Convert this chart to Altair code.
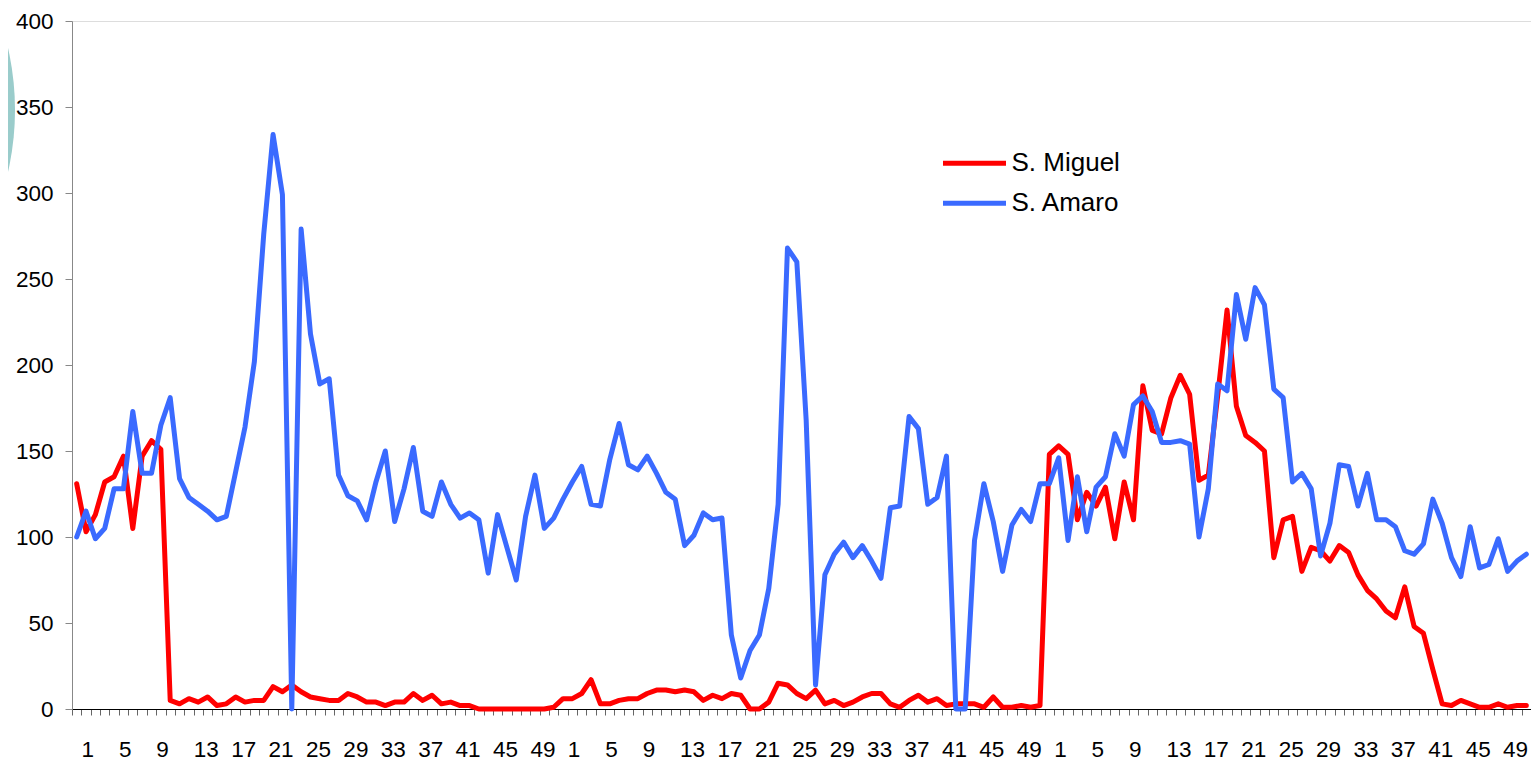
import altair as alt
import pandas as pd

# Week numbers of the three seasons (52 weeks each)
weeks = list(range(1, 53)) * 3

series_names = ["S. Miguel", "S. Amaro"]
series_colors = ["#FF0000", "#3A6AFF"]

s_miguel = [
    131, 103, 113, 132, 135, 147, 105, 147, 156, 151,
    5, 3, 6, 4, 7, 2, 3, 7, 4, 5,
    5, 13, 10, 14, 10, 7, 6, 5, 5, 9,
    7, 4, 4, 2, 4, 4, 9, 5, 8, 3,
    4, 2, 2, 0, 0, 0, 0, 0, 0, 0,
    0, 1, 6, 6, 9, 17, 3, 3, 5, 6,
    6, 9, 11, 11, 10, 11, 10, 5, 8, 6,
    9, 8, 0, 0, 4, 15, 14, 9, 6, 11,
    3, 5, 2, 4, 7, 9, 9, 3, 1, 5,
    8, 4, 6, 2, 3, 3, 3, 1, 7, 1,
    1, 2, 1, 2, 148, 153, 148, 110, 126, 118,
    129, 99, 132, 110, 188, 162, 160, 181, 194, 183,
    133, 136, 182, 232, 176, 159, 155, 150, 88, 110,
    112, 80, 94, 92, 86, 95, 91, 78, 69, 64,
    57, 53, 71, 48, 44, 23, 3, 2, 5, 3,
    1, 1, 3, 1, 2, 2,
]

s_amaro = [
    100, 115, 99, 105, 128, 128, 173, 137, 137, 165,
    181, 134, 123, 119, 115, 110, 112, 138, 164, 202,
    276, 334, 299, 0, 279, 218, 189, 192, 136, 124,
    121, 110, 132, 150, 109, 128, 152, 115, 112, 132,
    119, 111, 114, 110, 79, 113, 94, 75, 112, 136,
    105, 111, 122, 132, 141, 119, 118, 145, 166, 142,
    139, 147, 137, 126, 122, 95, 101, 114, 110, 111,
    43, 18, 34, 43, 70, 119, 268, 260, 168, 14,
    78, 90, 97, 88, 95, 86, 76, 117, 118, 170,
    163, 119, 123, 147, 0, 0, 98, 131, 109, 80,
    107, 116, 109, 131, 131, 146, 98, 135, 103, 129,
    135, 160, 147, 177, 182, 173, 155, 155, 156, 154,
    100, 128, 189, 185, 241, 215, 245, 235, 186, 181,
    132, 137, 128, 89, 108, 142, 141, 118, 137, 110,
    110, 106, 92, 90, 96, 122, 108, 88, 77, 106,
    82, 84, 99, 80, 86, 90,
]

y_ticks = [0, 50, 100, 150, 200, 250, 300, 350, 400]

rows = []
for name, vals in zip(series_names, [s_miguel, s_amaro]):
    for i, v in enumerate(vals):
        rows.append({"idx": i, "week": weeks[i], "serie": name, "valor": v})
df = pd.DataFrame(rows)

n = len(weeks)
boundaries = [i - 0.5 for i in range(n + 1)]
label_expr = (
    f"((datum.value + 0.5) % 4 == 0 && datum.value < {n - 1}) "
    "? '' + ((datum.value + 0.5) % 52 + 1) : ''"
)

FONT = "Liberation Sans"

lines = alt.Chart(df).mark_line(
    strokeWidth=5, strokeJoin="round", strokeCap="round"
).encode(
    x=alt.X(
        "idx:Q",
        scale=alt.Scale(domain=[-0.5, n - 0.5], nice=False, zero=False),
        axis=alt.Axis(
            values=boundaries,
            labelExpr=label_expr,
            labelAlign="left",
            labelOffset=9,
            labelFlush=False,
            labelOverlap=False,
            labelPadding=23,
            labelFontSize=22.5,
            labelFont=FONT,
            labelColor="black",
            tickSize=6,
            tickColor="#666666",
            domainColor="#000000",
            grid=False,
            title=None,
        ),
    ),
    y=alt.Y(
        "valor:Q",
        scale=alt.Scale(domain=[0, 400], nice=False),
        axis=alt.Axis(
            values=y_ticks,
            tickSize=7,
            labelPadding=12,
            labelFontSize=22.5,
            labelFont=FONT,
            labelColor="black",
            tickColor="#888888",
            domainColor="#888888",
            grid=False,
            title=None,
        ),
    ),
    color=alt.Color(
        "serie:N",
        scale=alt.Scale(domain=series_names, range=series_colors),
        legend=alt.Legend(
            orient="none",
            legendX=889.5,
            legendY=129.3,
            title=None,
            symbolType="M-3,0H3",
            symbolSize=441,
            symbolStrokeWidth=5,
            labelFontSize=26,
            labelFont=FONT,
            labelColor="black",
            labelOffset=24,
            rowPadding=14,
            padding=0,
        ),
    ),
    detail="serie:N",
)

# decorative teal disc cut by the left page edge
deco = alt.Chart(pd.DataFrame({"d": [0]})).mark_arc(
    color="#9ACCCB", opacity=1, radius=277.5, theta=0, theta2=6.2832, clip=False
).encode(x=alt.value(-334.5), y=alt.value(89))

chart = alt.layer(deco, lines).properties(
    width=1459,
    height=688,
    autosize=alt.AutoSizeParams(type="none"),
    padding={"left": 64, "top": 13, "right": 0, "bottom": 56},
).configure_view(stroke=None).configure(background="white")

chart.save("out.html", embed_options={"renderer": "svg", "actions": False})
